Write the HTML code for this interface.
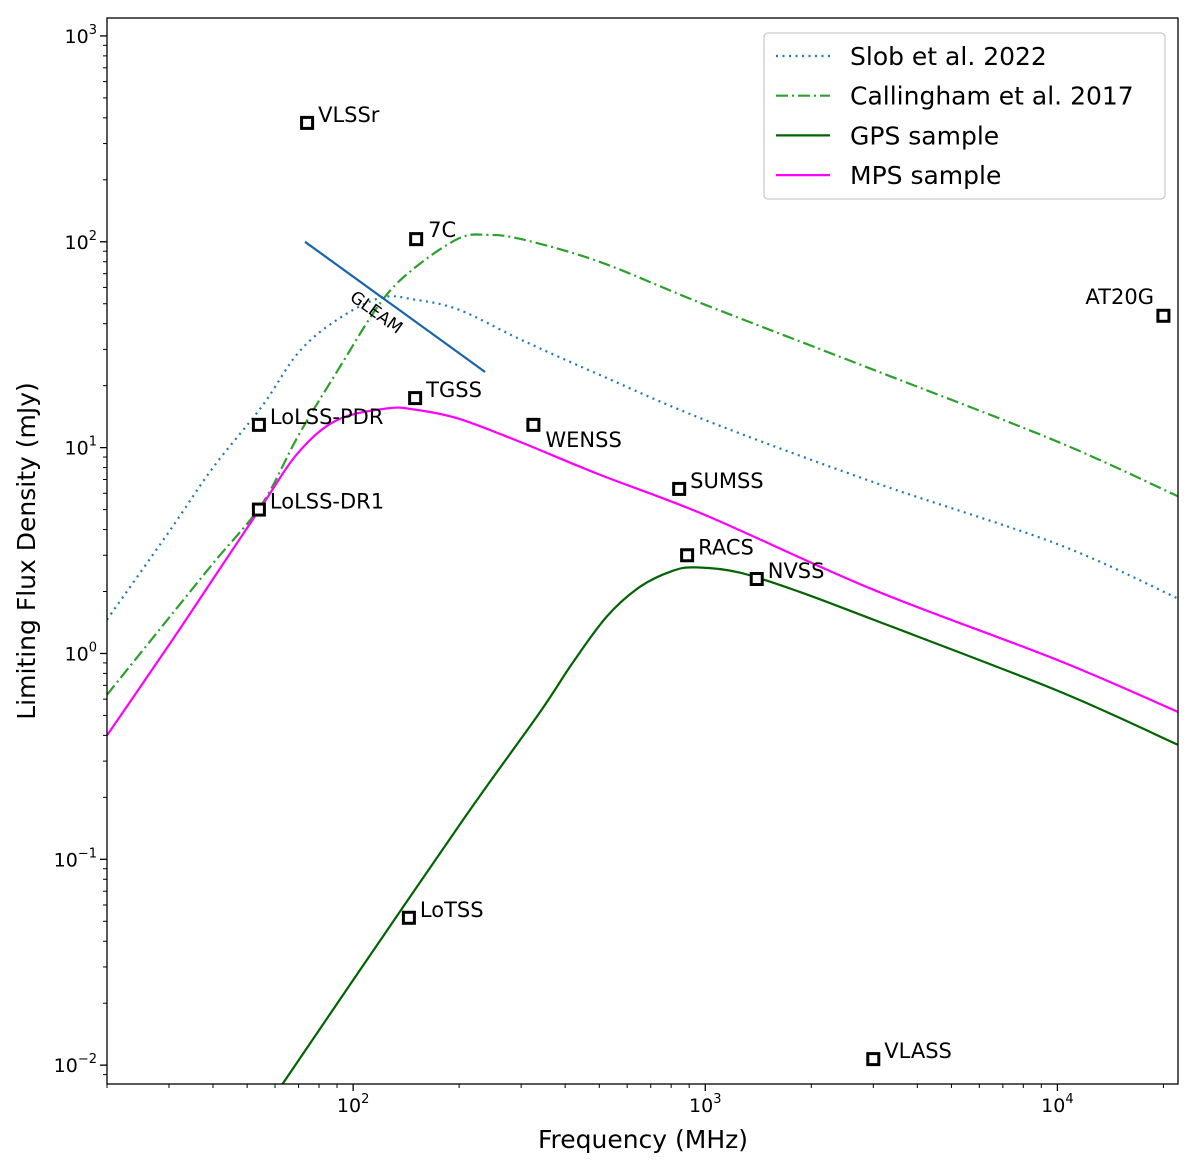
<!DOCTYPE html>
<html><head><meta charset="utf-8"><style>
html,body{margin:0;padding:0;background:#fff;}
svg{display:block;font-family:"DejaVu Sans","Liberation Sans",sans-serif;}
</style></head><body>
<svg id="chart" width="1200" height="1168" viewBox="0 0 1200 1168" xmlns="http://www.w3.org/2000/svg"></svg>
<script>
const freqs = [20,30,40,55,70,90,120,150,200,300,500,1000,3000,10000,22000];
const slob = [1.46,3.9,8.0,15.8,29,41.8,53.5,52.3,46.7,33.4,22.6,13.6,6.8,3.4,1.85];
const callFreqs = [20,30,40,55,70,90,120,150,200,240,300,500,1000,3000,10000,22000];
const calling = [0.63,1.49,2.74,5.3,11.5,23.4,51,75,104,108,103,80,49.4,23.9,10.7,5.8];
const mpsFreqs = [20,30,40,55,70,90,125,150,200,300,500,1000,3000,10000,22000];
const mps = [0.40,1.1,2.3,5.2,9.5,13.6,15.5,15.3,13.8,10.6,7.4,4.7,2.04,0.93,0.52];
const gpsFreqs = [63,100,207,338,420,525,653,808,945,1252,1855,3000,10000,22000];
const gps = [0.0081,0.0259,0.159,0.514,0.90,1.51,2.11,2.52,2.62,2.47,1.99,1.46,0.66,0.36];
const gleamFreqs = [73,237];
const gleamVals = [100,23.3];
const surveyNames = ["VLSSr","7C","AT20G","TGSS","LoLSS-PDR","WENSS","LoLSS-DR1","SUMSS","RACS","NVSS","LoTSS","VLASS"];
const surveyFreqs = [74,151,20000,150,54,325,54,843,888,1400,144,3000];
const surveyFlux = [378,103,43.7,17.4,12.9,12.9,5.0,6.3,3.0,2.3,0.052,0.0107];
const xTickVals = [100,1000,10000];
const xTickExps = ["2","3","4"];
const yTickVals = [0.01,0.1,1,10,100,1000];
const yTickExps = ["−2","−1","0","1","2","3"];

const L=107,R=1178,T=18,B=1084;
const xmin=Math.log10(20), xmax=Math.log10(22000);
const ymin=Math.log10(0.0081), ymax=Math.log10(1222);
const X=f=>L+(Math.log10(f)-xmin)/(xmax-xmin)*(R-L);
const Y=v=>B-(Math.log10(v)-ymin)/(ymax-ymin)*(B-T);
const svg=document.getElementById('chart');
const NS="http://www.w3.org/2000/svg";
function mk(tag,attrs,parent){const e=document.createElementNS(NS,tag);for(const k in attrs)e.setAttribute(k,attrs[k]);(parent||svg).appendChild(e);return e;}

const defs=mk('defs',{});
const cp=mk('clipPath',{id:'clip'},defs);
mk('rect',{x:L,y:T,width:R-L,height:B-T},cp);
const plot=mk('g',{'clip-path':'url(#clip)'});



function smoothPath(pts){
  let d='M'+pts[0][0].toFixed(1)+','+pts[0][1].toFixed(1);
  for(let i=0;i<pts.length-1;i++){
    const p0=pts[i-1]||pts[i],p1=pts[i],p2=pts[i+1],p3=pts[i+2]||p2;
    const c1=[p1[0]+(p2[0]-p0[0])/6,p1[1]+(p2[1]-p0[1])/6];
    const c2=[p2[0]-(p3[0]-p1[0])/6,p2[1]-(p3[1]-p1[1])/6];
    d+=' C'+c1[0].toFixed(1)+','+c1[1].toFixed(1)+' '+c2[0].toFixed(1)+','+c2[1].toFixed(1)+' '+p2[0].toFixed(1)+','+p2[1].toFixed(1);
  }
  return d;
}
function series(fs,vs,color,dash,name,w){
  const pts=fs.map((f,i)=>[X(f),Y(vs[i])]);
  const p=mk('path',{d:smoothPath(pts),fill:'none',stroke:color,'stroke-width':w||2.2,'stroke-dasharray':dash||'none','stroke-linejoin':'round'},plot);
  
  
}
series(freqs,slob,'#1f77b4','2,4.5','slob-2022-line');
series(callFreqs,calling,'#2ca02c','12,4,2,4','callingham-2017-line');
series(gpsFreqs,gps,'#006400','','gps-sample-line');
series(mpsFreqs,mps,'#ff00ff','','mps-sample-line');
series(gleamFreqs,gleamVals,'#1764ab','','gleam-limit-line');
const gl=mk('text',{x:0,y:0,'font-size':17,transform:`translate(${(X(gleamFreqs[0])+X(gleamFreqs[1]))/2-22},${(Y(gleamVals[0])+Y(gleamVals[1]))/2+10}) rotate(36)`,'text-anchor':'middle'},plot);
gl.textContent='GLEAM';



const offs={"AT20G":[-78,-12],"WENSS":[12,22],"VLSSr":[11,-1],"7C":[12,-2]};
surveyNames.forEach((n,i)=>{
  const cx=X(surveyFreqs[i]),cy=Y(surveyFlux[i]);
  const r=mk('rect',{x:cx-5.5,y:cy-5.5,width:11,height:11,fill:'#fff',stroke:'#000','stroke-width':3});
  
  
  const o=offs[n]||[11,-1];
  const t=mk('text',{x:cx+o[0],y:cy+o[1],'font-size':21});
  t.textContent=n;
  
  
});

const fr=mk('rect',{x:L,y:T,width:R-L,height:B-T,fill:'none',stroke:'#000','stroke-width':1.3});



for(let e=1;e<=4;e++)for(let m=1;m<10;m++){
  const f=m*Math.pow(10,e);const x=X(f);
  if(x<L-0.5||x>R+0.5)continue;
  mk('line',{x1:x,x2:x,y1:B,y2:B+(m===1?7:4),stroke:'#000','stroke-width':m===1?1.3:1});
}
xTickVals.forEach((v,i)=>{
  const t=mk('text',{x:X(v),y:B+28,'font-size':19,'text-anchor':'middle'});
  t.innerHTML='10<tspan dy="-9" font-size="13">'+xTickExps[i]+'</tspan>';
  
  
});
for(let e=-3;e<=3;e++)for(let m=1;m<10;m++){
  const v=m*Math.pow(10,e);const y=Y(v);
  if(y<T-0.5||y>B+0.5)continue;
  mk('line',{x1:L,x2:L-(m===1?7:4),y1:y,y2:y,stroke:'#000','stroke-width':m===1?1.3:1});
}
yTickVals.forEach((v,i)=>{
  const t=mk('text',{x:L-10,y:Y(v)+7,'font-size':19,'text-anchor':'end'});
  t.innerHTML='10<tspan dy="-9" font-size="13">'+yTickExps[i]+'</tspan>';
  
  
});
const xl=mk('text',{x:643,y:1148,'font-size':25,'text-anchor':'middle'});
xl.textContent='Frequency (MHz)';


const yl=mk('text',{x:0,y:0,'font-size':25,'text-anchor':'middle',transform:'translate(35,551) rotate(-90)'});
yl.textContent='Limiting Flux Density (mJy)';



const lg=mk('g',{});


mk('rect',{x:764,y:33,width:401,height:166,rx:4,fill:'#fff',stroke:'#ccc','stroke-width':1.3},lg);
const legNames=['Slob et al. 2022','Callingham et al. 2017','GPS sample','MPS sample'];
const legColors=['#1f77b4','#2ca02c','#006400','#ff00ff'];
const legDash=['2,4.5','12,4,2,4','none','none'];
legNames.forEach((n,i)=>{
  const y=56+i*39.7;
  mk('line',{x1:776,x2:830,y1:y,y2:y,stroke:legColors[i],'stroke-width':2.2,'stroke-dasharray':legDash[i]},lg);
  const t=mk('text',{x:850,y:y+9,'font-size':25},lg);
  t.textContent=n;
  
  
});
</script>
</body></html>
